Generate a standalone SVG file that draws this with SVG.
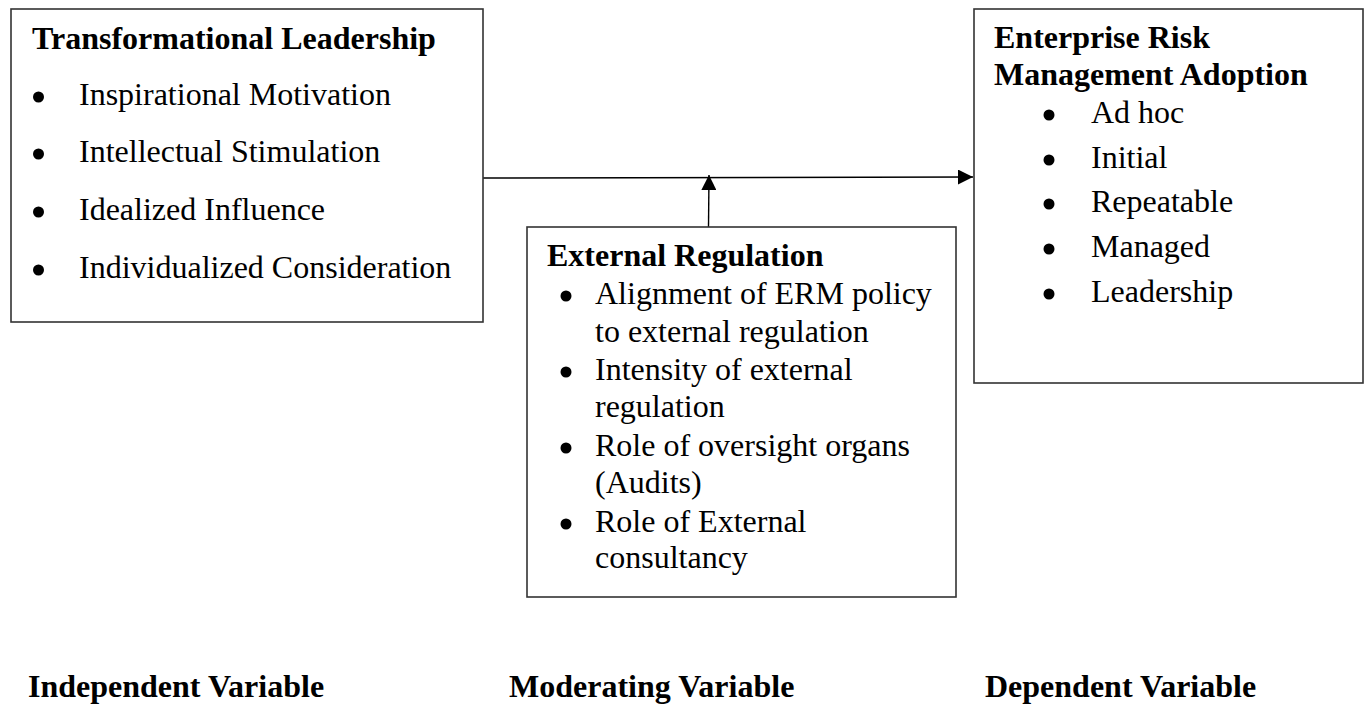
<svg xmlns="http://www.w3.org/2000/svg" width="1368" height="704" viewBox="0 0 1368 704">
<style>
text{font-family:"Liberation Serif","Times New Roman",serif;font-size:32px;fill:#000}
.b{font-weight:bold}
.box{fill:#fff;stroke:#333;stroke-width:1.6}
.dot{fill:#000}
.conn{stroke:#000;stroke-width:1.4;fill:none}
</style>
<defs>
<marker id="ah" viewBox="0 0 10 10" refX="10" refY="5" markerWidth="15" markerHeight="15" markerUnits="userSpaceOnUse" orient="auto">
<path d="M0,0 L10,5 L0,10 z" fill="#000"/>
</marker>
</defs>
<rect width="1368" height="704" fill="#fff"/>
<g id="connectors">
<path class="conn" d="M483,178 L973,177" marker-end="url(#ah)"/>
<path class="conn" d="M708.5,227 L709,175" marker-end="url(#ah)"/>
</g>
<g id="transformational-leadership">
<rect class="box" x="11" y="9" width="472" height="313"/>
<text class="b" x="32" y="49">Transformational Leadership</text>
<circle class="dot" cx="38.5" cy="97" r="5.5"/>
<text x="79" y="105">Inspirational Motivation</text>
<circle class="dot" cx="38.5" cy="154" r="5.5"/>
<text x="79" y="162">Intellectual Stimulation</text>
<circle class="dot" cx="38.5" cy="212" r="5.5"/>
<text x="79" y="220">Idealized Influence</text>
<circle class="dot" cx="38.5" cy="270" r="5.5"/>
<text x="79" y="278">Individualized Consideration</text>
</g>
<g id="external-regulation">
<rect class="box" x="527" y="227" width="429" height="370"/>
<text class="b" x="547" y="266">External Regulation</text>
<circle class="dot" cx="566" cy="296" r="5.5"/>
<text x="595" y="304">Alignment of ERM policy</text>
<text x="595" y="342">to external regulation</text>
<circle class="dot" cx="566" cy="372" r="5.5"/>
<text x="595" y="380">Intensity of external</text>
<text x="595" y="417">regulation</text>
<circle class="dot" cx="566" cy="448" r="5.5"/>
<text x="595" y="456">Role of oversight organs</text>
<text x="595" y="493">(Audits)</text>
<circle class="dot" cx="566" cy="524" r="5.5"/>
<text x="595" y="532">Role of External</text>
<text x="595" y="568">consultancy</text>
</g>
<g id="erm-adoption">
<rect class="box" x="974" y="9" width="389" height="374"/>
<text class="b" x="994" y="48">Enterprise Risk</text>
<text class="b" x="994" y="85">Management Adoption</text>
<circle class="dot" cx="1049" cy="115" r="5.5"/>
<text x="1091" y="123">Ad hoc</text>
<circle class="dot" cx="1049" cy="160" r="5.5"/>
<text x="1091" y="168">Initial</text>
<circle class="dot" cx="1049" cy="204" r="5.5"/>
<text x="1091" y="212">Repeatable</text>
<circle class="dot" cx="1049" cy="249" r="5.5"/>
<text x="1091" y="257">Managed</text>
<circle class="dot" cx="1049" cy="294" r="5.5"/>
<text x="1091" y="302">Leadership</text>
</g>
<g id="labels">
<text class="b" x="28" y="697">Independent Variable</text>
<text class="b" x="509" y="697">Moderating Variable</text>
<text class="b" x="985" y="697">Dependent Variable</text>
</g>
</svg>
